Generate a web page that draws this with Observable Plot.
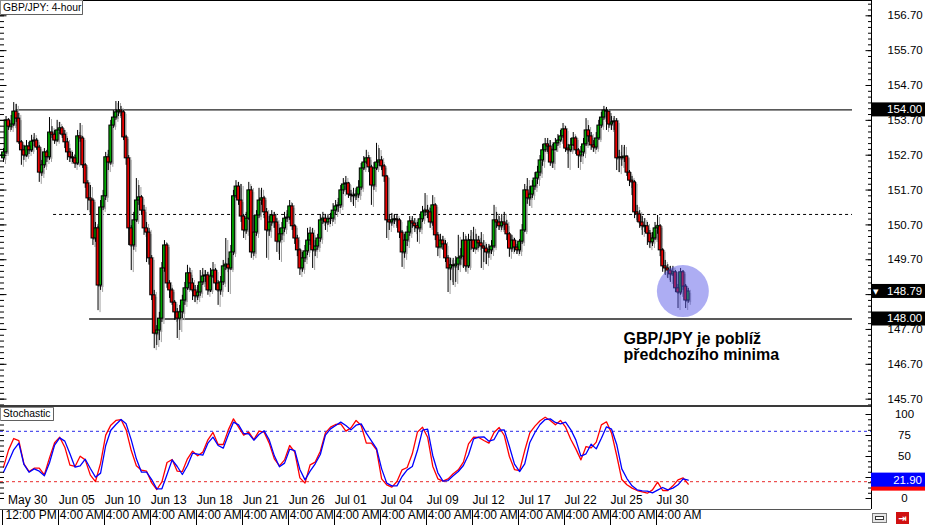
<!DOCTYPE html>
<html><head><meta charset="utf-8">
<script src="https://cdn.jsdelivr.net/npm/d3@7"></script>
<script src="https://cdn.jsdelivr.net/npm/@observablehq/plot@0.6"></script>
<style>
html,body{margin:0;padding:0;background:#fff;}
#chart{position:relative;width:925px;height:525px;overflow:hidden;font-family:"Liberation Sans",Arial,sans-serif;}
#chart svg{position:absolute;left:0;overflow:visible;}
</style></head><body><div id="chart"></div>
<script>
// ---------- DATA (GBP/JPY 4-hour candles) ----------
const firstOpen = 152.61;
const closes = [
152.78,153.70,153.52,153.58,153.95,153.75,153.07,152.84,152.69,152.95,152.84,153.09,153.12,152.92,152.20,152.41,152.78,152.64,153.35,
153.29,153.12,153.41,153.47,153.29,153.07,152.78,152.64,152.61,152.46,153.24,153.18,
152.41,151.89,151.46,151.40,150.31,150.60,148.96,151.20,151.52,152.64,
152.49,153.55,153.78,153.93,153.98,153.93,153.21,152.61,150.60,150.11,150.83,
151.40,151.49,151.11,150.60,150.48,149.74,148.68,147.58,147.67,148.01,149.45,150.11,
149.02,148.82,148.47,148.19,148.01,148.19,148.53,148.88,149.31,149.02,
148.82,148.65,148.76,149.05,149.22,149.25,148.82,149.22,149.39,149.02,148.82,149.05,149.51,149.56,149.45,149.91,151.52,
151.80,151.40,150.94,150.54,150.88,151.69,149.91,150.48,150.97,151.40,
151.46,151.06,150.54,150.77,150.97,150.77,150.22,150.43,150.60,150.88,
150.91,151.23,150.66,150.31,149.97,149.45,149.74,149.94,150.25,150.45,
149.97,150.08,150.31,150.83,150.88,150.77,150.86,150.88,151.11,151.23,
151.26,151.69,151.86,151.89,151.57,151.54,151.52,151.57,151.77,152.32,
152.49,152.61,152.35,151.83,152.32,152.49,152.55,152.38,152.09,150.83,
150.77,150.83,150.86,150.83,150.48,149.91,150.25,150.48,150.80,150.74,
150.66,150.60,150.86,151.06,151.11,151.06,150.77,151.26,150.40,150.05,
150.25,150.14,149.74,149.45,149.54,149.51,149.56,149.74,149.79,150.25,
149.51,150.25,150.25,150.02,150.25,150.17,150.08,150.02,149.91,149.97,
150.08,150.83,150.77,150.66,150.77,150.71,150.43,150.02,150.25,150.05,
149.97,150.22,150.54,151.69,151.46,151.57,151.80,152.03,152.20,152.55,
152.84,153.01,152.95,152.49,152.84,153.04,153.12,153.24,153.44,152.89,
152.84,152.98,153.18,152.84,152.69,152.78,153.01,153.41,153.24,152.98,
152.92,153.18,153.55,153.78,153.98,153.95,153.58,153.64,153.67,152.61,
152.64,152.61,152.66,152.20,151.97,151.92,151.06,151.00,150.77,150.66,
150.66,150.45,150.20,150.31,150.60,150.66,149.97,149.51,149.45,149.39,
149.28,149.34,148.88,148.76,149.34,148.93,148.53,148.79];
const highs = [
152.89,153.81,153.75,153.84,154.21,154.16,153.90,153.12,152.98,153.12,153.07,153.27,153.32,153.18,152.98,152.55,152.89,152.84,153.78,
153.52,153.41,153.70,153.64,153.52,153.41,153.18,152.89,152.78,152.69,153.41,153.61,
153.24,152.46,151.97,151.83,151.46,150.77,150.66,151.40,151.69,152.78,
152.84,153.70,153.98,154.24,154.24,154.10,153.98,153.27,152.69,150.68,151.06,
152.03,151.83,151.54,151.26,150.77,150.60,149.82,148.82,147.81,148.19,149.62,150.25,
150.17,149.10,148.88,148.53,148.30,148.39,148.68,149.05,149.54,149.45,
149.16,148.96,148.96,149.39,149.45,149.39,149.34,149.45,149.62,149.45,149.10,149.22,149.68,150.31,149.74,150.11,151.69,
151.97,151.92,151.86,151.00,151.06,151.92,151.80,150.97,151.11,151.75,
151.75,151.52,151.17,150.94,151.11,151.06,150.88,150.60,150.77,151.06,
151.11,151.40,151.31,150.71,150.40,150.02,149.91,150.11,150.60,150.63,
150.60,150.25,150.43,151.00,151.06,151.00,151.00,151.03,151.31,151.40,
151.46,151.83,152.03,152.09,151.92,151.69,151.75,151.75,151.97,152.46,
152.66,152.84,152.69,152.41,152.49,153.04,152.89,152.66,152.43,152.12,
151.00,151.03,151.00,151.00,150.88,150.54,150.43,150.66,150.94,150.94,
150.88,150.77,151.00,151.23,151.60,151.26,151.17,151.54,151.31,150.48,
150.43,150.37,150.25,149.82,149.74,149.74,149.79,150.40,150.02,150.48,
150.37,150.43,150.54,150.63,150.43,150.37,150.48,150.25,150.14,150.14,
150.25,151.26,151.06,150.94,151.00,151.06,150.83,150.48,150.40,150.31,
150.14,150.28,150.71,151.86,152.03,151.80,151.97,152.20,152.38,152.69,
153.01,153.18,153.18,153.12,153.01,153.18,153.29,153.41,153.61,153.52,
153.01,153.18,153.35,153.24,152.89,152.95,153.18,153.75,153.55,153.35,
153.12,153.35,153.70,153.93,154.10,154.07,153.93,153.81,153.81,153.75,
152.84,152.98,152.98,152.69,152.26,152.09,151.97,151.26,151.11,150.94,
150.88,150.77,150.54,150.48,150.77,150.97,150.71,150.02,149.68,149.56,
149.51,149.51,149.39,148.99,149.45,149.39,148.99,148.88];
const lows = [
152.49,152.72,153.41,153.41,153.52,153.64,153.01,152.41,152.55,152.64,152.72,152.78,152.95,152.84,151.92,152.09,152.32,152.49,152.55,
153.18,153.01,153.07,153.29,153.18,152.89,152.55,152.49,152.49,152.32,152.41,153.07,
152.32,151.75,151.11,150.97,150.11,150.20,148.24,148.82,151.11,151.40,
152.26,152.41,153.47,153.70,153.81,153.81,153.12,152.41,150.11,149.39,149.97,
150.77,151.26,150.97,150.40,149.62,149.54,148.53,147.15,147.24,147.38,147.90,149.34,
148.88,148.59,148.39,147.96,147.44,147.67,148.01,148.39,148.82,148.82,
148.53,148.47,148.53,148.65,148.96,149.05,148.68,148.76,149.16,148.82,148.39,148.68,148.96,149.39,148.76,149.39,149.82,
151.46,151.26,150.77,150.31,150.43,150.83,149.74,149.79,150.37,150.88,
151.26,150.88,149.74,150.37,150.66,150.60,149.91,149.68,150.25,150.48,
150.77,150.83,150.54,150.14,149.79,149.25,149.34,149.62,149.82,150.11,
149.45,149.79,149.97,150.20,150.71,150.54,150.68,150.71,150.77,150.97,
151.06,151.17,151.57,151.69,151.46,151.34,151.23,151.40,151.46,151.69,
152.26,152.43,152.20,151.26,151.69,152.26,152.38,152.26,151.92,150.31,
150.54,150.66,150.71,150.60,150.31,149.48,149.74,150.08,150.37,150.60,
150.48,150.20,150.48,150.77,150.94,150.88,150.60,150.66,150.25,149.79,
150.08,149.97,149.62,148.76,149.10,148.96,149.05,149.39,149.54,149.45,
149.34,149.45,149.97,149.91,149.97,150.02,149.45,149.62,149.56,149.74,
149.85,150.02,150.60,150.54,150.54,150.54,150.25,149.77,149.91,149.91,
149.85,149.85,150.14,150.48,151.29,151.23,151.46,151.69,151.86,152.09,
152.38,152.78,152.78,152.38,152.32,152.84,152.95,153.07,153.18,152.78,
152.32,152.78,152.95,152.72,152.32,152.49,152.66,152.95,153.07,152.84,
152.78,152.84,153.12,153.47,153.70,153.41,153.47,153.41,153.41,152.26,
152.20,152.38,152.49,152.09,151.80,151.54,150.88,150.77,150.60,150.40,
150.48,150.11,150.02,150.08,150.25,150.43,149.79,149.34,149.25,149.16,
149.05,149.22,148.76,148.30,148.68,148.82,148.30,148.45];

// Stochastic, one reading every second candle
const stochBlue = [
31.3,44.0,57.9,65.9,40.5,31.3,35.3,32.5,27.0,42.5,63.5,72.2,68.3,53.2,37.3,38.9,46.8,35.7,25.4,30.2,
63.1,81.3,88.1,94.0,88.9,69.8,47.2,31.3,31.3,22.6,11.5,11.5,28.6,46.0,38.1,28.6,39.3,54.0,52.8,51.6,
65.9,73.0,63.1,59.9,75.8,90.9,87.7,77.4,77.0,69.4,76.2,80.6,69.8,50.8,37.7,42.1,58.7,57.1,34.5,22.2,
32.5,41.3,52.4,75.4,82.9,86.9,90.9,86.9,81.7,87.3,88.9,77.8,68.7,59.5,35.3,18.3,15.1,15.1,26.2,34.1,
38.1,57.1,81.3,82.5,51.2,30.6,20.6,21.4,27.0,32.1,39.3,52.0,71.0,73.0,73.4,68.3,70.2,81.3,81.7,61.9,
40.9,32.1,41.3,66.7,78.6,88.1,94.0,94.8,90.5,88.9,90.9,82.1,69.8,50.4,53.2,64.7,59.1,71.8,85.3,82.5,
64.3,35.3,23.8,15.1,10.3,9.1,8.7,6.7,9.9,13.1,10.3,12.3,16.3,23.4,21.9];
const stochRed = [
37.3,57.9,71.4,69.0,41.3,32.1,36.1,36.1,28.2,48.4,66.3,73.0,61.1,39.7,38.1,50.4,46.0,27.8,20.2,42.1,
75.4,87.3,92.9,94.0,81.7,57.1,38.9,33.7,32.5,18.7,10.7,19.8,42.9,46.4,32.5,32.1,47.2,56.3,50.8,55.2,
69.8,78.6,64.3,64.3,81.7,94.8,84.9,75.4,79.0,70.2,80.2,79.0,65.9,47.2,38.9,46.0,63.1,55.2,24.6,18.3,
40.1,43.3,56.3,78.2,84.9,88.1,88.9,80.2,84.1,92.9,86.9,65.9,65.9,57.9,23.4,16.3,13.5,20.2,34.1,36.9,
53.2,79.0,84.9,73.0,38.5,23.4,20.6,23.4,29.4,34.1,43.3,65.1,73.0,72.6,69.0,65.9,78.6,84.5,75.0,50.0,
34.5,33.3,57.1,78.2,86.1,92.5,96.8,92.9,87.7,92.9,84.9,70.6,59.1,46.0,61.9,60.3,67.1,87.7,91.3,77.8,
51.2,22.6,16.3,12.3,9.5,7.9,6.3,10.3,19.4,9.5,9.5,15.1,22.2,24.6,17.1];
const stochEvery = 2;

// Axis ticks and labels (148.70 and 25 are hidden behind value boxes in the original)
const priceTickMarks = [156.7,155.7,154.7,153.7,152.7,151.7,150.7,149.7,148.7,147.7,146.7,145.7];
const priceTickLabels = [156.7,155.7,154.7,153.7,152.7,151.7,150.7,149.7,147.7,146.7,145.7];
const stochTickMarks = [0,25,50,75,100];
const stochTickLabels = [0,50,75,100];
const dateLabels = ["May 30","Jun 05","Jun 10","Jun 13","Jun 18","Jun 21","Jun 26","Jul 01","Jul 04","Jul 09","Jul 12","Jul 17","Jul 22","Jul 25","Jul 30"];
const timeLabels = ["12:00 PM","4:00 AM","4:00 AM","4:00 AM","4:00 AM","4:00 AM","4:00 AM","4:00 AM","4:00 AM","4:00 AM","4:00 AM","4:00 AM","4:00 AM","4:00 AM","4:00 AM"];
const labelBars = [0,22,40,58,76,94,112,130,148,166,184,202,220,238,256];

// Drawn levels (price, first candle, last candle)
const solidLevelPrices = [154.00, 148.00];
const solidLevelStart = [4.7, 33.7];
const dashedLevelPrice = 151.00;
const dashedLevelStart = 19.6;
const levelEnd = 332.3;
const currentPrice = 148.79;
const stochBlueLast = 21.90, stochRedLast = 17.10;
const highlight = {bar: 265.9, price: 148.80};
const note = {bar: 242.7, price: 147.21, text: "GBP/JPY je poblíž\npředchozího minima"};

// ---------- LAYOUT ----------
const W = 925, mainH = 407, stochH = 118, frameRight = 871;
const barPx = 2.555, firstBarPx = 3;
const xDomain = [-firstBarPx / barPx, (frameRight - firstBarPx) / barPx];
const pxPerUnit = 34.85, topPrice = 157.139;
const yDomain = [topPrice - mainH / pxPerUnit, topPrice];
const font = "'Liberation Sans', Arial, sans-serif";
const up = "#00a800", down = "#e60000";

const bars = closes.map((c, i) => {
  const o = i === 0 ? firstOpen : closes[i - 1];
  return {i, o, c, h: Math.max(highs[i], o, c), l: Math.min(lows[i], o, c), up: c >= o};
});
const half = 0.55;
const bodies = bars.map(b => {
  let lo = Math.min(b.o, b.c), hi = Math.max(b.o, b.c);
  if (hi - lo < 0.02) { const m = (hi + lo) / 2; lo = m - 0.01; hi = m + 0.01; }
  return {x1: b.i - half, x2: b.i + half, y1: lo, y2: hi, up: b.up};
});
const solidLevels = solidLevelPrices.map((p, k) => ({price: p, from: solidLevelStart[k], to: levelEnd}));
const dashedLevels = [{price: dashedLevelPrice, from: dashedLevelStart, to: levelEnd}];

const minorPrice = d3.range(-1, 69).map(j => 145.7 + j / 6);
const minorStoch = d3.range(0, 17).map(j => j * 6.25);
const noLabel = () => "";

const main = Plot.plot({
  width: W, height: mainH,
  marginLeft: 0, marginRight: W - frameRight, marginTop: 0, marginBottom: 0,
  x: {domain: xDomain, axis: null},
  y: {domain: yDomain},
  style: {fontFamily: font, fontSize: "11.5px", color: "#000", background: "transparent", overflow: "visible"},
  marks: [
    Plot.ruleY(solidLevels, {y: "price", x1: "from", x2: "to", stroke: "#222", strokeWidth: 1.3}),
    Plot.ruleY(dashedLevels, {y: "price", x1: "from", x2: "to", stroke: "#000", strokeDasharray: "3,3"}),
    Plot.ruleX(bars, {x: "i", y1: "l", y2: "h", stroke: "#a0a0a0", dx: 2, dy: 2}),
    Plot.rect(bodies, {x1: "x1", x2: "x2", y1: "y1", y2: "y2", fill: "#a0a0a0", dx: 2, dy: 2}),
    Plot.ruleX(bars, {x: "i", y1: "l", y2: "h", stroke: "#000"}),
    Plot.rect(bodies.filter(d => d.up), {x1: "x1", x2: "x2", y1: "y1", y2: "y2", fill: up, stroke: "#000", strokeWidth: 1}),
    Plot.rect(bodies.filter(d => !d.up), {x1: "x1", x2: "x2", y1: "y1", y2: "y2", fill: down, stroke: "#000", strokeWidth: 1}),
    Plot.dot([highlight], {x: "bar", y: "price", r: 26, fill: "#5050e6", fillOpacity: 0.47}),
    Plot.text([note], {x: "bar", y: "price", text: "text", textAnchor: "start", lineAnchor: "middle", fontSize: 16, fontWeight: "bold", lineHeight: 1.02, fill: "#000"}),
    Plot.axisY(priceTickLabels, {anchor: "right", tickSize: 0, tickPadding: 16, tickFormat: d => d.toFixed(2), label: null}),
    Plot.axisY(minorPrice, {anchor: "right", tickSize: -4, tickFormat: noLabel, label: null}),
    Plot.axisY(priceTickMarks, {anchor: "right", tickSize: -6.5, tickFormat: noLabel, label: null}),
    Plot.axisY(minorPrice, {anchor: "left", tickSize: -4, tickFormat: noLabel, label: null}),
    Plot.axisY(priceTickMarks, {anchor: "left", tickSize: -6.5, tickFormat: noLabel, label: null})
  ]
});
main.style.top = "0px";

const stochData = stochBlue.map((b, k) => ({bar: k * stochEvery, blue: b, red: stochRed[k]}));
const labelData = labelBars.map((b, k) => ({bar: b, date: dateLabels[k], time: timeLabels[k]}));

const stoch = Plot.plot({
  width: W, height: stochH,
  marginLeft: 0, marginRight: W - frameRight, marginTop: 7, marginBottom: 27,
  x: {domain: xDomain, axis: null},
  y: {domain: [0, 100]},
  style: {fontFamily: font, fontSize: "11.5px", color: "#000", background: "transparent", overflow: "visible"},
  marks: [
    Plot.ruleY([80], {stroke: "#2a2ae8", strokeDasharray: "3,3"}),
    Plot.ruleY([20], {stroke: "#e82a2a", strokeDasharray: "3,3"}),
    Plot.line(stochData, {x: "bar", y: "red", stroke: "#ff0000", strokeWidth: 1.3}),
    Plot.line(stochData, {x: "bar", y: "blue", stroke: "#0000ff", strokeWidth: 1.3}),
    Plot.axisY(stochTickLabels, {anchor: "right", tickSize: 0, tickPadding: 33, textAnchor: "middle", label: null}),
    Plot.axisY(minorStoch, {anchor: "right", tickSize: -4, tickFormat: noLabel, label: null}),
    Plot.axisY(stochTickMarks, {anchor: "right", tickSize: -6.5, tickFormat: noLabel, label: null}),
    Plot.axisY(minorStoch, {anchor: "left", tickSize: -4, tickFormat: noLabel, label: null}),
    Plot.text(labelData.slice(0, 1), {x: "bar", text: "date", frameAnchor: "bottom", dy: 5, dx: 4.5, textAnchor: "start", fontSize: 12}),
    Plot.text(labelData.slice(1), {x: "bar", text: "date", frameAnchor: "bottom", dy: 5, dx: -1, textAnchor: "start", fontSize: 12}),
    Plot.text(labelData.slice(0, 1), {x: "bar", text: "time", frameAnchor: "bottom", dy: 20, dx: 2, textAnchor: "start", fontSize: 12}),
    Plot.text(labelData.slice(1), {x: "bar", text: "time", frameAnchor: "bottom", dy: 20, dx: 0, textAnchor: "start", fontSize: 12})
  ]
});
stoch.style.top = mainH + "px";

const root = document.getElementById("chart");
root.appendChild(main);
root.appendChild(stoch);

// ---------- chrome drawn with the plots' own scales ----------
const ym = main.scale("y"), ys = stoch.scale("y"), xs = stoch.scale("x");
const ms = d3.select(main), ss = d3.select(stoch);
ms.append("line").attr("x1", 0).attr("x2", frameRight).attr("y1", 0.5).attr("y2", 0.5).attr("stroke", "#000");
ms.append("line").attr("x1", frameRight + 0.5).attr("x2", frameRight + 0.5).attr("y1", 0).attr("y2", mainH).attr("stroke", "#000");
ms.append("rect").attr("x", 0).attr("y", mainH - 2).attr("width", frameRight).attr("height", 2).attr("fill", "#3a3a3a");
function labelBox(svg, w, h, label) {
  const g = svg.append("g").attr("text-anchor", "start");
  g.append("rect").attr("x", 0.5).attr("y", 0.5).attr("width", w).attr("height", h).attr("fill", "#fff").attr("stroke", "#8c8c8c");
  g.append("line").attr("x1", 1).attr("x2", w).attr("y1", h + 0.5).attr("y2", h + 0.5).attr("stroke", "#606060");
  g.append("line").attr("x1", w + 0.5).attr("x2", w + 0.5).attr("y1", 1).attr("y2", h + 0.5).attr("stroke", "#606060");
  g.append("text").attr("x", 3).attr("y", h - 3).attr("text-anchor", "start").attr("font-size", 10.3)
    .attr("font-family", font).attr("fill", "#000").text(label);
}
labelBox(ms, 82, 14, "GBP/JPY: 4-hour");
function priceBox(svg, y, label, bg, arrow, anchor) {
  const g = svg.append("g");
  g.append("rect").attr("x", frameRight).attr("y", y - 7).attr("width", W - frameRight).attr("height", 14).attr("fill", bg);
  if (label) g.append("text").attr("x", anchor === "end" ? 922 : 887).attr("y", y + 4).attr("text-anchor", anchor || "start")
    .attr("fill", "#fff").attr("font-size", 11.5).attr("font-family", font).text(label);
  if (arrow) g.append("text").attr("x", 873).attr("y", y + 3).attr("text-anchor", "start").attr("fill", "#fff")
    .attr("font-size", 7).attr("font-family", "DejaVu Sans").text("▼");
}
solidLevelPrices.forEach(p => priceBox(ms, ym.apply(p), p.toFixed(2), "#000", false));
priceBox(ms, ym.apply(currentPrice), currentPrice.toFixed(2), "#000", true);

ss.append("line").attr("x1", frameRight + 0.5).attr("x2", frameRight + 0.5).attr("y1", 0).attr("y2", 102).attr("stroke", "#000");
ss.append("line").attr("x1", 0).attr("x2", frameRight).attr("y1", 102.5).attr("y2", 102.5).attr("stroke", "#555");
labelBox(ss, 53, 13, "Stochastic");
// the red %D box sits under the blue one, only its lower edge shows
priceBox(ss, ys.apply(stochRedLast), null, "#ff0000", false, "end");
priceBox(ss, ys.apply(stochBlueLast), stochBlueLast.toFixed(2), "#0000ff", false, "end");
labelBars.forEach(b => {
  const x = Math.round(xs.apply(b) - 1.5) + 0.5;
  ss.append("line").attr("x1", x).attr("x2", x).attr("y1", 103).attr("y2", 118).attr("stroke", "#000");
});
// toolbar icons in the corner
const ic = ss.append("g");
ic.append("rect").attr("x", 872.5).attr("y", 106.5).attr("width", 14).attr("height", 9).attr("fill", "#e6e6e6").attr("stroke", "#777");
ic.append("rect").attr("x", 875.5).attr("y", 109.5).attr("width", 8).attr("height", 3).attr("fill", "#fff").attr("stroke", "#333");
ic.append("rect").attr("x", 896).attr("y", 105).attr("width", 13).attr("height", 12).attr("fill", "#d01010");
ic.append("text").attr("x", 902.5).attr("y", 115).attr("text-anchor", "middle").attr("fill", "#fff").attr("font-size", 10).attr("font-family", "DejaVu Sans").attr("font-weight", "bold").text("⇥");
</script></body></html>
